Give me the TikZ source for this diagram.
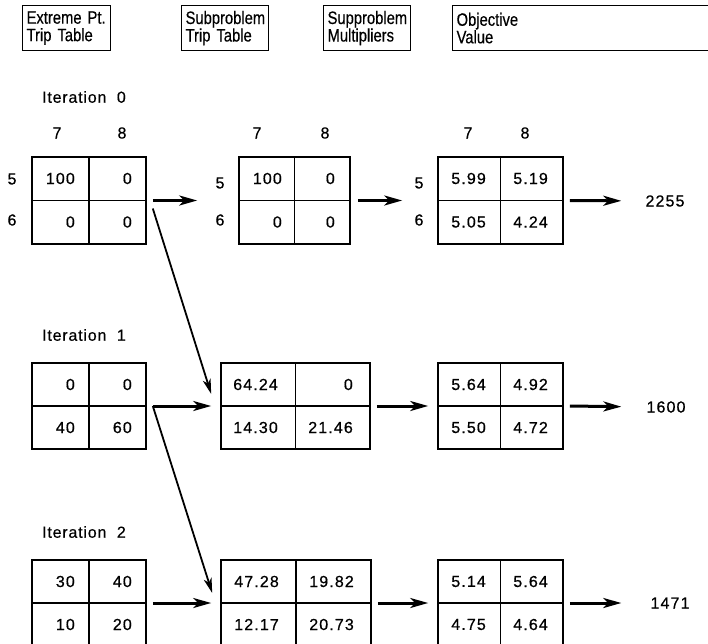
\documentclass[tikz,border=0pt]{standalone}
\usepackage{fontspec}
\setmainfont{Liberation Sans}
\newfontfamily\hdrfont[FakeStretch=0.82,FakeBold=0.4]{Liberation Sans}
\newfontfamily\numfont[LetterSpace=7,FakeBold=0.6]{Liberation Sans}
\newfontfamily\itfont[LetterSpace=5,FakeBold=0.4]{Liberation Sans}
\usetikzlibrary{arrows.meta,calc}
\begin{document}
\begin{tikzpicture}[x=1pt,y=-1pt,
  hdr/.style={draw, line width=1.2pt, anchor=north west, inner xsep=4pt, inner ysep=2.5pt, minimum height=45pt,
    align=left, font=\hdrfont\fontsize{18}{17.5}\selectfont},
  gridbox/.style={draw, line width=1.6pt, inner sep=0pt},
  divider/.style={line width=1.6pt},
  num/.style={anchor=east, inner sep=0pt, font=\numfont\fontsize{16}{16}\selectfont},
  lbl/.style={inner sep=0pt, font=\numfont\fontsize{16}{16}\selectfont},
  itlbl/.style={anchor=west, inner sep=0pt, font=\itfont\fontsize{16}{16}\selectfont},
  arr/.style={line width=3pt, -{Stealth[length=18pt,width=10pt,inset=5pt]}},
  darr/.style={line width=1.8pt, -{Stealth[length=15pt,width=8pt,inset=4pt]}}
]
\useasboundingbox (0,0) rectangle (708,643);

% headers
\node[hdr, text width=80pt] (h1) at (22,5) {Extreme Pt.\\Trip Table};
\node[hdr, text width=79pt] (h2) at (181,5) {Subproblem\\Trip Table};
\node[hdr, text width=79pt] (h3) at (323,5) {Supproblem\\Multipliers};
\node[hdr, text width=300pt] (h4) at (452,5) {Objective\\Value};

% iteration labels
\node[itlbl] (it0) at (42,97) {Iteration\ \ 0};
\node[itlbl] (it1) at (42,335) {Iteration\ \ 1};
\node[itlbl] (it2) at (42,532) {Iteration\ \ 2};

% ---------- iteration 0 ----------
\node[gridbox, minimum width=114pt, minimum height=87pt] (g00) at (89,200.5) {};
\node[gridbox, minimum width=111pt, minimum height=87pt] (g01) at (294.5,200.5) {};
\node[gridbox, minimum width=125pt, minimum height=87pt] (g02) at (500.5,200.5) {};
% ---------- iteration 1 ----------
\node[gridbox, minimum width=114pt, minimum height=86pt] (g10) at (89,406) {};
\node[gridbox, minimum width=149pt, minimum height=86pt] (g11) at (295.5,406) {};
\node[gridbox, minimum width=125pt, minimum height=86pt] (g12) at (500.5,406) {};
% ---------- iteration 2 ----------
\node[gridbox, minimum width=114pt, minimum height=86pt] (g20) at (89,603) {};
\node[gridbox, minimum width=150pt, minimum height=86pt] (g21) at (296,603) {};
\node[gridbox, minimum width=125pt, minimum height=86pt] (g22) at (500.5,603) {};

\foreach \g in {g00,g01,g02,g10,g11,g12,g20,g21,g22}{
  \draw[divider] (\g.north) -- (\g.south) (\g.west) -- (\g.east);
}

% row / column labels
\node[lbl] (c07a) at (57,133) {7};
\node[lbl] (c08a) at (122,133) {8};
\node[lbl] (r05a) at (12,179) {5};
\node[lbl] (r06a) at (12,220) {6};
\node[lbl] (c07b) at (257,133) {7};
\node[lbl] (c08b) at (325,133) {8};
\node[lbl] (r05b) at (220,183) {5};
\node[lbl] (r06b) at (220,220) {6};
\node[lbl] (c07c) at (468,133) {7};
\node[lbl] (c08c) at (525,133) {8};
\node[lbl] (r05c) at (419,183) {5};
\node[lbl] (r06c) at (419,220) {6};

% cell values iteration 0
\node[num] (n001) at (75,178.5) {100};
\node[num] (n002) at (132,178.5) {0};
\node[num] (n003) at (75,222) {0};
\node[num] (n004) at (132,222) {0};
\node[num] (n011) at (282,178.5) {100};
\node[num] (n012) at (335,178.5) {0};
\node[num] (n013) at (282,222) {0};
\node[num] (n014) at (335,222) {0};
\node[num] (n021) at (486,178.5) {5.99};
\node[num] (n022) at (548,178.5) {5.19};
\node[num] (n023) at (486,222) {5.05};
\node[num] (n024) at (548,222) {4.24};
% iteration 1
\node[num] (n101) at (75,384.5) {0};
\node[num] (n102) at (132,384.5) {0};
\node[num] (n103) at (75,427.5) {40};
\node[num] (n104) at (132,427.5) {60};
\node[num] (n111) at (278,384.5) {64.24};
\node[num] (n112) at (353,384.5) {0};
\node[num] (n113) at (278,427.5) {14.30};
\node[num] (n114) at (353,427.5) {21.46};
\node[num] (n121) at (486,384.5) {5.64};
\node[num] (n122) at (548,384.5) {4.92};
\node[num] (n123) at (486,427.5) {5.50};
\node[num] (n124) at (548,427.5) {4.72};
% iteration 2
\node[num] (n201) at (75,581.5) {30};
\node[num] (n202) at (132,581.5) {40};
\node[num] (n203) at (75,624.5) {10};
\node[num] (n204) at (132,624.5) {20};
\node[num] (n211) at (279,581.5) {47.28};
\node[num] (n212) at (354,581.5) {19.82};
\node[num] (n213) at (279,624.5) {12.17};
\node[num] (n214) at (354,624.5) {20.73};
\node[num] (n221) at (486,581.5) {5.14};
\node[num] (n222) at (548,581.5) {5.64};
\node[num] (n223) at (486,624.5) {4.75};
\node[num] (n224) at (548,624.5) {4.64};

% objective values
\node[lbl] (v0) at (665,201) {2255};
\node[lbl] (v1) at (666,407) {1600};
\node[lbl] (v2) at (670,603) {1471};

% arrows iteration 0
\draw[arr] ($(g00.east)+(6,0)$) -- ($(g01.west)+(-41,0)$);
\draw[arr] ($(g01.east)+(7,0)$) -- ($(g02.west)+(-35,0)$);
\draw[arr, shorten >=24pt] ($(g02.east)+(6,0)$) -- (v0.west);
\draw[darr] ($(g00.east)+(6,8)$) -- ($(g11.west)+(-9,-12)$);
% arrows iteration 1
\draw[arr] ($(g10.east)+(6,0)$) -- ($(g11.west)+(-9,0)$);
\draw[arr] ($(g11.east)+(6,0)$) -- ($(g12.west)+(-9,0)$);
\draw[arr, shorten >=25pt] ($(g12.east)+(6,0)$) -- (v1.west);
\draw[darr] ($(g10.east)+(6,0)$) -- ($(g21.west)+(-8,-10)$);
% arrows iteration 2
\draw[arr] ($(g20.east)+(6,0)$) -- ($(g21.west)+(-9,0)$);
\draw[arr] ($(g21.east)+(6,0)$) -- ($(g22.west)+(-9,0)$);
\draw[arr, shorten >=29pt] ($(g22.east)+(6,0)$) -- (v2.west);
\end{tikzpicture}
\end{document}
